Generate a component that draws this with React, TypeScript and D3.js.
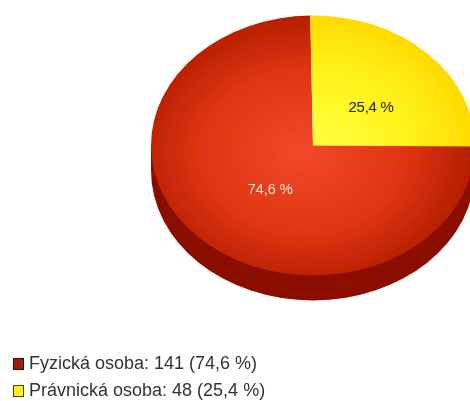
import React from "react";
import * as d3 from "d3";

const categories = ["Fyzická osoba", "Právnická osoba"];
const counts = [141, 48];
const shares = ["74,6 %", "25,4 %"];
const edgeColors = ["#3a0a00", "#444400"];
const swatchColors = ["#a01c08", "#ffee22"];
const labelColors = ["#fbe3d4", "#222200"];

const W = 470, H = 401;
const cx = 313, cy = 145.5, rx = 162, ry = 130, depth = 25;
const rotation = (-1 * Math.PI) / 180;

export default function App() {
  const pie = d3.pie<number>().sort(null).startAngle(2 * Math.PI * -0.746 + rotation).endAngle(2 * Math.PI * 0.254 + rotation);
  const arcs = pie(counts);
  const arc = d3.arc<d3.PieArcDatum<number>>().innerRadius(0).outerRadius(1);
  const side = `M${cx - rx},${cy} L${cx - rx},${cy + depth} A${rx},${ry} 0 0 0 ${cx + rx},${cy + depth} L${cx + rx},${cy} Z`;
  const labelPos: [number, number][] = [[270, 190], [371, 108]];
  return (
    <svg width={W} height={H} style={{ position: "absolute", left: 0, top: 0, background: "#fff" }}>
      <defs>
        <radialGradient id="red" gradientUnits="userSpaceOnUse" cx={-0.06} cy={0.05} r={1.05}>
          <stop offset="0" stopColor="#f2492a" />
          <stop offset="0.6" stopColor="#de3512" />
          <stop offset="1" stopColor="#b41e00" />
        </radialGradient>
        <radialGradient id="yellow" gradientUnits="userSpaceOnUse" cx={0} cy={0} r={1}>
          <stop offset="0" stopColor="#ffff40" />
          <stop offset="0.6" stopColor="#fff21a" />
          <stop offset="1" stopColor="#ffda00" />
        </radialGradient>
        <filter id="soft" x="-5%" y="-5%" width="110%" height="110%">
          <feGaussianBlur stdDeviation="0.6" />
        </filter>
        <filter id="softText">
          <feGaussianBlur stdDeviation="0.4" />
        </filter>
      </defs>
      <g filter="url(#soft)">
        <path d={side} fill="#8a0a00" />
        <g transform={`translate(${cx},${cy}) scale(${rx},${ry})`}>
          {arcs.map((a, i) => (
            <path key={categories[i]} d={arc(a) ?? ""} fill={`url(#${i === 0 ? "red" : "yellow"})`} />
          ))}
        </g>
      </g>
      <g filter="url(#softText)" fontFamily="Liberation Sans, Arial, sans-serif">
        {shares.map((s, i) => (
          <text key={s} x={labelPos[i][0]} y={labelPos[i][1]} textAnchor="middle" dominantBaseline="middle" fontSize={15} fill={labelColors[i]} letterSpacing={-0.3}>
            {s}
          </text>
        ))}
        {categories.map((c, i) => (
          <g key={c} transform={`translate(13,${364 + i * 27})`}>
            <rect x={0.5} y={-5.5} width={10} height={11} fill={swatchColors[i]} stroke={edgeColors[i]} strokeWidth={1} />
            <text x={16} y={0} dominantBaseline="middle" fontSize={18} fill="#333">
              {`${c}: ${counts[i]} (${shares[i]})`}
            </text>
          </g>
        ))}
      </g>
    </svg>
  );
}
